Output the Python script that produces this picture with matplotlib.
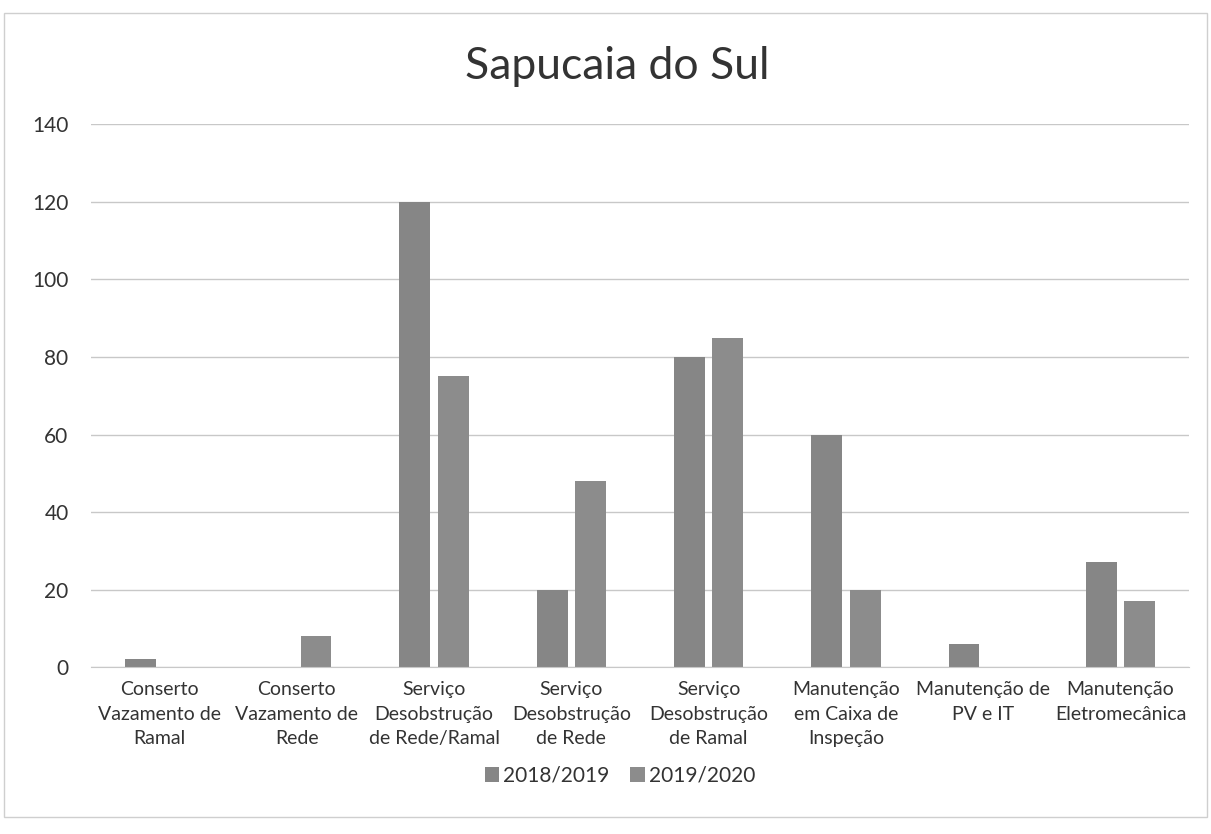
import matplotlib.pyplot as plt
import numpy as np

plt.rcParams['font.family'] = ['Lato', 'DejaVu Sans']

# Dados
categorias = ['Conserto\nVazamento de\nRamal', 'Conserto\nVazamento de\nRede',
              'Serviço\nDesobstrução\nde Rede/Ramal', 'Serviço\nDesobstrução\nde Rede',
              'Serviço\nDesobstrução\nde Ramal', 'Manutenção\nem Caixa de\nInspeção',
              'Manutenção de\nPV e IT', 'Manutenção\nEletromecânica']
serie_2018 = [2, 0, 120, 20, 80, 60, 6, 27]
serie_2019 = [0, 8, 75, 48, 85, 20, 0, 17]

fig = plt.figure(figsize=(12.11, 8.34), dpi=100)
ax = fig.add_axes([0.075, 0.2, 0.907, 0.651])

x = np.arange(len(categorias))
ax.bar(x - 0.14, serie_2018, width=0.225, color='#868686', label='2018/2019')
ax.bar(x + 0.14, serie_2019, width=0.225, color='#8c8c8c', label='2019/2020')

ax.set_ylim(0, 140)
ax.set_yticks(range(0, 141, 20))
ax.set_xlim(-0.5, len(categorias) - 0.5)
ax.set_xticks(x)
ax.set_xticklabels(categorias, fontsize=14, color='#333333', linespacing=1.55)
ax.tick_params(axis='y', labelsize=15, colors='#333333', length=0, pad=16)
ax.tick_params(axis='x', length=0, pad=10)
ax.grid(axis='y', color='#c8c8c8', linewidth=1)
ax.set_axisbelow(True)
for s in ['top', 'right', 'left']:
    ax.spines[s].set_visible(False)
ax.spines['bottom'].set_color('#c8c8c8')

fig.text(0.51, 0.92, 'Sapucaia do Sul', ha='center', va='center', fontsize=32, color='#333333')
fig.legend(loc='center', bbox_to_anchor=(0.512, 0.07), ncol=2, frameon=False,
           fontsize=15, handlelength=0.7, handleheight=0.7, columnspacing=1.0,
           handletextpad=0.2, labelcolor='#333333')

# moldura do gráfico
fig.patches.append(plt.Rectangle((0.003, 0.02), 0.994, 0.965, transform=fig.transFigure,
                                 fill=False, edgecolor='#cfcfcf', linewidth=1))

plt.savefig('out.png', dpi=100)
